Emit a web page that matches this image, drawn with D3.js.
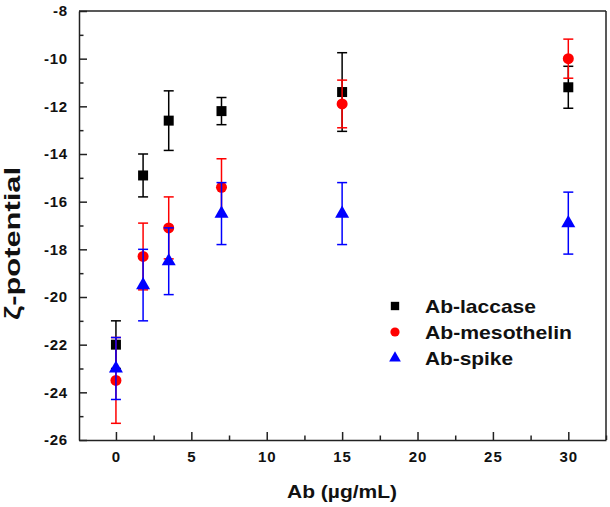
<!DOCTYPE html>
<html>
<head>
<meta charset="utf-8">
<script src="https://cdn.jsdelivr.net/npm/d3@7"></script>
<style>
  body { margin: 0; background: #fff; }
  text { font-family: Arial, "Liberation Sans", sans-serif; font-weight: bold; }
</style>
</head>
<body>
<svg id="chart" width="610" height="507"></svg>
<script>
// concentrations (µg/mL)
var conc = [0, 1.8, 3.5, 7, 15, 30];

var laccaseMean = [-22.0, -14.9, -12.6, -12.2, -11.4, -11.2];
var laccaseErr  = [1.0, 0.9, 1.25, 0.57, 1.65, 0.88];

var mesoMean = [-23.5, -18.3, -17.1, -15.4, -11.9, -10.0];
var mesoErr  = [1.8, 1.4, 1.3, 1.2, 1.0, 0.82];

var spikeMean = [-23.0, -19.5, -18.5, -16.5, -16.5, -16.9];
var spikeErr  = [1.3, 1.5, 1.4, 1.3, 1.3, 1.3];

var xTicks = [0, 5, 10, 15, 20, 25, 30];
var yTicks = [-26, -24, -22, -20, -18, -16, -14, -12, -10, -8];

var seriesList = [
  { name: "Ab-laccase", mean: laccaseMean, err: laccaseErr, color: "#000000", symbol: d3.symbolSquare, size: 100, len: 111 },
  { name: "Ab-mesothelin", mean: mesoMean, err: mesoErr, color: "#ff0000", symbol: d3.symbolCircle, size: 95, len: 147 },
  { name: "Ab-spike", mean: spikeMean, err: spikeErr, color: "#0000ff", symbol: d3.symbolTriangle, size: 85, len: 88 }
];

var margin = { top: 11, right: 4, bottom: 67, left: 79 };
var width = 610 - margin.left - margin.right;
var height = 507 - margin.top - margin.bottom;

var svg = d3.select("#chart");
var g = svg.append("g")
  .attr("transform", "translate(" + margin.left + "," + margin.top + ")");

var x = d3.scaleLinear().domain([-2.45, 32.5]).range([0, width]);
var y = d3.scaleLinear().domain([-26, -8]).range([height, 0]);

// minor ticks
var xMinor = d3.range(-2.5, 32.6, 2.5).filter(function (d) { return d % 5 != 0 && d > -2.45; });
var yMinor = d3.range(-25, -8, 2);

var xAxis = d3.axisBottom(x).tickValues(xTicks).tickSizeInner(-8).tickSizeOuter(0).tickPadding(11);
var yAxis = d3.axisLeft(y).tickValues(yTicks).tickSizeInner(-8).tickSizeOuter(0).tickPadding(11);

var gx = g.append("g").attr("transform", "translate(0," + height + ")").call(xAxis);
var gy = g.append("g").call(yAxis);

g.append("g").attr("transform", "translate(0," + height + ")")
  .call(d3.axisBottom(x).tickValues(xMinor).tickSizeInner(-4.5).tickSizeOuter(0).tickFormat(""))
  .select(".domain").remove();
g.append("g")
  .call(d3.axisLeft(y).tickValues(yMinor).tickSizeInner(-4.5).tickSizeOuter(0).tickFormat(""))
  .select(".domain").remove();

g.selectAll(".tick line").attr("stroke", "#222").attr("stroke-width", 1.5);
g.selectAll(".domain").attr("stroke", "#222").attr("stroke-width", 1.5);
gx.selectAll("text").style("font-size", "15px").style("letter-spacing", "1px").attr("fill", "#111");
gy.selectAll("text").style("font-size", "15px").style("letter-spacing", "0.8px").attr("fill", "#111")
  .text(function (d) { return String(d); });

// top and right frame
g.append("line").attr("x1", 0).attr("x2", width).attr("y1", 0).attr("y2", 0)
  .attr("stroke", "#222").attr("stroke-width", 1.5);
g.append("line").attr("x1", width).attr("x2", width).attr("y1", 0).attr("y2", height)
  .attr("stroke", "#222").attr("stroke-width", 1.5);

// series: error bars then symbols
var capW = 5;
seriesList.forEach(function (s) {
  var sg = g.append("g");
  conc.forEach(function (c, i) {
    var cx = x(c);
    var lo = y(s.mean[i] - s.err[i]);
    var hi = y(s.mean[i] + s.err[i]);
    sg.append("line").attr("x1", cx).attr("x2", cx).attr("y1", lo).attr("y2", hi)
      .attr("stroke", s.color).attr("stroke-width", 1.5);
    sg.append("line").attr("x1", cx - capW).attr("x2", cx + capW).attr("y1", lo).attr("y2", lo)
      .attr("stroke", s.color).attr("stroke-width", 1.5);
    sg.append("line").attr("x1", cx - capW).attr("x2", cx + capW).attr("y1", hi).attr("y2", hi)
      .attr("stroke", s.color).attr("stroke-width", 1.5);
  });
  sg.selectAll("path.pt")
    .data(conc)
    .enter().append("path")
    .attr("class", "pt")
    .attr("d", d3.symbol().type(s.symbol).size(s.size))
    .attr("transform", function (d, i) { return "translate(" + x(d) + "," + y(s.mean[i]) + ")"; })
    .attr("fill", s.color);
});

// legend
var legend = g.append("g").attr("transform", "translate(" + (395 - margin.left) + "," + (306 - margin.top) + ")");
seriesList.forEach(function (s, i) {
  var row = legend.append("g").attr("transform", "translate(0," + (i * 26) + ")");
  row.append("path")
    .attr("d", d3.symbol().type(s.symbol).size(s.size * 0.7))
    .attr("fill", s.color);
  row.append("text")
    .attr("x", 30).attr("y", 7)
    .style("font-size", "19px")
    .attr("textLength", s.len)
    .attr("lengthAdjust", "spacingAndGlyphs")
    .attr("fill", "#111")
    .text(s.name);
});

// axis titles
svg.append("text")
  .attr("x", 287).attr("y", 498)
  .style("font-size", "19px")
  .attr("textLength", 110)
  .attr("lengthAdjust", "spacingAndGlyphs")
  .attr("fill", "#111")
  .text("Ab (µg/mL)");

svg.append("text")
  .attr("transform", "translate(20,320) rotate(-90)")
  .style("font-size", "22px")
  .attr("textLength", 153)
  .attr("lengthAdjust", "spacingAndGlyphs")
  .attr("fill", "#111")
  .text("ζ-potential");
</script>
</body>
</html>
